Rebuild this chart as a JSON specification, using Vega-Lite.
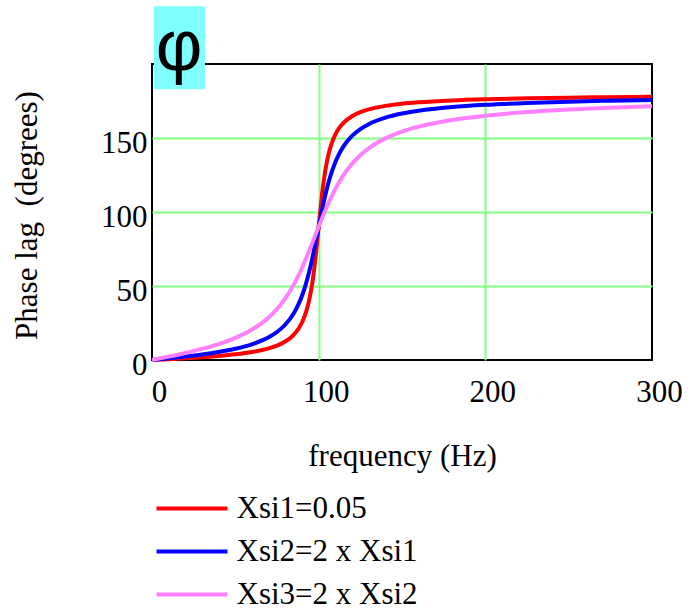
{
  "$schema": "https://vega.github.io/schema/vega-lite/v6.json",
  "width": 500,
  "height": 296,
  "autosize": {"type": "none"},
  "padding": {"left": 152, "top": 64, "right": 36, "bottom": 249},
  "background": "white",
  "config": {
    "view": {"stroke": "black", "strokeWidth": 2},
    "axis": {
      "grid": true,
      "gridColor": "#80ff80",
      "gridWidth": 2,
      "domain": false,
      "ticks": false,
      "tickSize": 0,
      "labelFont": "Liberation Serif",
      "labelFontSize": 31,
      "labelColor": "black",
      "titleFont": "Liberation Serif",
      "titleFontSize": 31,
      "titleFontWeight": "normal",
      "titleColor": "black"
    },
    "legend": {
      "labelFont": "Liberation Serif",
      "labelFontSize": 31,
      "labelColor": "black",
      "labelLimit": 500
    }
  },
  "encoding": {
    "x": {
      "field": "f",
      "type": "quantitative",
      "title": "frequency (Hz)",
      "scale": {"domain": [0, 300], "nice": false, "zero": false},
      "axis": {
        "values": [0, 100, 200, 300],
        "labelBaseline": "alphabetic",
        "labelPadding": 41,
        "labelOffset": 7,
        "labelFlush": false,
        "labelOverlap": false,
        "gridOpacity": {"condition": {"test": "datum.value == 0 || datum.value == 300", "value": 0}, "value": 1},
        "titleBaseline": "alphabetic",
        "titleX": 250,
        "titleY": 105,
        "titleAlign": "center"
      }
    },
    "y": {
      "field": "p",
      "type": "quantitative",
      "title": "Phase lag\u00a0 (degrees)",
      "scale": {"domain": [0, 200], "nice": false},
      "axis": {
        "values": [0, 50, 100, 150],
        "labelBaseline": "alphabetic",
        "labelOffset": 14,
        "labelPadding": 5,
        "labelFlush": false,
        "labelOverlap": false,
        "gridOpacity": {"condition": {"test": "datum.value == 0", "value": 0}, "value": 1},
        "titleAngle": 270,
        "titleBaseline": "alphabetic",
        "titleAlign": "center",
        "titleX": -116,
        "titleY": 151
      }
    }
  },
  "layer": [
    {
      "data": {"values": [{"f": 1.2, "f2": 31.8, "p": 183, "p2": 239}]},
      "mark": {"type": "rect", "color": "#80ffff"},
      "encoding": {"x2": {"field": "f2"}, "y2": {"field": "p2"}}
    },
    {
      "data": {"values": [{"f": 16.2, "p": 196, "t": "φ"}]},
      "mark": {"type": "text", "font": "Liberation Sans", "fontSize": 72, "color": "black", "baseline": "alphabetic", "align": "center"},
      "encoding": {"text": {"field": "t"}}
    },
    {
      "data": {
        "values": [
          {"s":"Xsi1=0.05","f":0,"p":0},{"s":"Xsi1=0.05","f":10,"p":0.58},{"s":"Xsi1=0.05","f":20,"p":1.19},{"s":"Xsi1=0.05","f":30,"p":1.89},{"s":"Xsi1=0.05","f":40,"p":2.73},{"s":"Xsi1=0.05","f":50,"p":3.81},{"s":"Xsi1=0.05","f":60,"p":5.36},{"s":"Xsi1=0.05","f":70,"p":7.82},{"s":"Xsi1=0.05","f":75,"p":9.73},{"s":"Xsi1=0.05","f":80,"p":12.53},{"s":"Xsi1=0.05","f":85,"p":17.03},{"s":"Xsi1=0.05","f":88,"p":21.31},{"s":"Xsi1=0.05","f":90,"p":25.35},{"s":"Xsi1=0.05","f":92,"p":30.92},{"s":"Xsi1=0.05","f":94,"p":38.92},{"s":"Xsi1=0.05","f":95,"p":44.26},{"s":"Xsi1=0.05","f":96,"p":50.76},{"s":"Xsi1=0.05","f":97,"p":58.65},{"s":"Xsi1=0.05","f":98,"p":68.0},{"s":"Xsi1=0.05","f":99,"p":78.63},{"s":"Xsi1=0.05","f":100,"p":90},{"s":"Xsi1=0.05","f":101,"p":101.25},{"s":"Xsi1=0.05","f":102,"p":111.61},{"s":"Xsi1=0.05","f":103,"p":120.59},{"s":"Xsi1=0.05","f":104,"p":128.12},{"s":"Xsi1=0.05","f":105,"p":134.31},{"s":"Xsi1=0.05","f":106,"p":139.39},{"s":"Xsi1=0.05","f":108,"p":147.0},{"s":"Xsi1=0.05","f":110,"p":152.35},{"s":"Xsi1=0.05","f":112,"p":156.24},{"s":"Xsi1=0.05","f":115,"p":160.37},{"s":"Xsi1=0.05","f":120,"p":164.74},{"s":"Xsi1=0.05","f":125,"p":167.47},{"s":"Xsi1=0.05","f":130,"p":169.33},{"s":"Xsi1=0.05","f":140,"p":171.7},{"s":"Xsi1=0.05","f":150,"p":173.16},{"s":"Xsi1=0.05","f":160,"p":174.14},{"s":"Xsi1=0.05","f":180,"p":175.41},{"s":"Xsi1=0.05","f":200,"p":176.19},{"s":"Xsi1=0.05","f":225,"p":176.83},{"s":"Xsi1=0.05","f":250,"p":177.27},{"s":"Xsi1=0.05","f":275,"p":177.6},{"s":"Xsi1=0.05","f":300,"p":177.85},
          {"s":"Xsi2=2 x Xsi1","f":0,"p":0},{"s":"Xsi2=2 x Xsi1","f":10,"p":1.16},{"s":"Xsi2=2 x Xsi1","f":20,"p":2.39},{"s":"Xsi2=2 x Xsi1","f":30,"p":3.77},{"s":"Xsi2=2 x Xsi1","f":40,"p":5.44},{"s":"Xsi2=2 x Xsi1","f":50,"p":7.6},{"s":"Xsi2=2 x Xsi1","f":60,"p":10.62},{"s":"Xsi2=2 x Xsi1","f":70,"p":15.35},{"s":"Xsi2=2 x Xsi1","f":75,"p":18.92},{"s":"Xsi2=2 x Xsi1","f":80,"p":23.96},{"s":"Xsi2=2 x Xsi1","f":85,"p":31.49},{"s":"Xsi2=2 x Xsi1","f":88,"p":37.96},{"s":"Xsi2=2 x Xsi1","f":90,"p":43.45},{"s":"Xsi2=2 x Xsi1","f":92,"p":50.14},{"s":"Xsi2=2 x Xsi1","f":94,"p":58.24},{"s":"Xsi2=2 x Xsi1","f":95,"p":62.84},{"s":"Xsi2=2 x Xsi1","f":96,"p":67.79},{"s":"Xsi2=2 x Xsi1","f":97,"p":73.06},{"s":"Xsi2=2 x Xsi1","f":98,"p":78.58},{"s":"Xsi2=2 x Xsi1","f":99,"p":84.26},{"s":"Xsi2=2 x Xsi1","f":100,"p":90},{"s":"Xsi2=2 x Xsi1","f":101,"p":95.68},{"s":"Xsi2=2 x Xsi1","f":102,"p":101.2},{"s":"Xsi2=2 x Xsi1","f":103,"p":106.47},{"s":"Xsi2=2 x Xsi1","f":104,"p":111.42},{"s":"Xsi2=2 x Xsi1","f":105,"p":116.02},{"s":"Xsi2=2 x Xsi1","f":106,"p":120.25},{"s":"Xsi2=2 x Xsi1","f":108,"p":127.61},{"s":"Xsi2=2 x Xsi1","f":110,"p":133.67},{"s":"Xsi2=2 x Xsi1","f":112,"p":138.63},{"s":"Xsi2=2 x Xsi1","f":115,"p":144.5},{"s":"Xsi2=2 x Xsi1","f":120,"p":151.39},{"s":"Xsi2=2 x Xsi1","f":125,"p":156.04},{"s":"Xsi2=2 x Xsi1","f":130,"p":159.35},{"s":"Xsi2=2 x Xsi1","f":140,"p":163.74},{"s":"Xsi2=2 x Xsi1","f":150,"p":166.5},{"s":"Xsi2=2 x Xsi1","f":160,"p":168.41},{"s":"Xsi2=2 x Xsi1","f":180,"p":170.87},{"s":"Xsi2=2 x Xsi1","f":200,"p":172.41},{"s":"Xsi2=2 x Xsi1","f":225,"p":173.68},{"s":"Xsi2=2 x Xsi1","f":250,"p":174.56},{"s":"Xsi2=2 x Xsi1","f":275,"p":175.21},{"s":"Xsi2=2 x Xsi1","f":300,"p":175.71},
          {"s":"Xsi3=2 x Xsi2","f":0,"p":0},{"s":"Xsi3=2 x Xsi2","f":10,"p":2.31},{"s":"Xsi3=2 x Xsi2","f":20,"p":4.76},{"s":"Xsi3=2 x Xsi2","f":30,"p":7.51},{"s":"Xsi3=2 x Xsi2","f":40,"p":10.78},{"s":"Xsi3=2 x Xsi2","f":50,"p":14.93},{"s":"Xsi3=2 x Xsi2","f":60,"p":20.56},{"s":"Xsi3=2 x Xsi2","f":70,"p":28.77},{"s":"Xsi3=2 x Xsi2","f":75,"p":34.44},{"s":"Xsi3=2 x Xsi2","f":80,"p":41.63},{"s":"Xsi3=2 x Xsi2","f":85,"p":50.78},{"s":"Xsi3=2 x Xsi2","f":88,"p":57.34},{"s":"Xsi3=2 x Xsi2","f":90,"p":62.18},{"s":"Xsi3=2 x Xsi2","f":92,"p":67.35},{"s":"Xsi3=2 x Xsi2","f":94,"p":72.8},{"s":"Xsi3=2 x Xsi2","f":95,"p":75.61},{"s":"Xsi3=2 x Xsi2","f":96,"p":78.46},{"s":"Xsi3=2 x Xsi2","f":97,"p":81.34},{"s":"Xsi3=2 x Xsi2","f":98,"p":84.23},{"s":"Xsi3=2 x Xsi2","f":99,"p":87.12},{"s":"Xsi3=2 x Xsi2","f":100,"p":90},{"s":"Xsi3=2 x Xsi2","f":101,"p":92.85},{"s":"Xsi3=2 x Xsi2","f":102,"p":95.65},{"s":"Xsi3=2 x Xsi2","f":103,"p":98.41},{"s":"Xsi3=2 x Xsi2","f":104,"p":101.1},{"s":"Xsi3=2 x Xsi2","f":105,"p":103.71},{"s":"Xsi3=2 x Xsi2","f":106,"p":106.25},{"s":"Xsi3=2 x Xsi2","f":108,"p":111.06},{"s":"Xsi3=2 x Xsi2","f":110,"p":115.51},{"s":"Xsi3=2 x Xsi2","f":112,"p":119.59},{"s":"Xsi3=2 x Xsi2","f":115,"p":125.03},{"s":"Xsi3=2 x Xsi2","f":120,"p":132.51},{"s":"Xsi3=2 x Xsi2","f":125,"p":138.37},{"s":"Xsi3=2 x Xsi2","f":130,"p":143.0},{"s":"Xsi3=2 x Xsi2","f":140,"p":149.74},{"s":"Xsi3=2 x Xsi2","f":150,"p":154.36},{"s":"Xsi3=2 x Xsi2","f":160,"p":157.69},{"s":"Xsi3=2 x Xsi2","f":180,"p":162.18},{"s":"Xsi3=2 x Xsi2","f":200,"p":165.07},{"s":"Xsi3=2 x Xsi2","f":225,"p":167.51},{"s":"Xsi3=2 x Xsi2","f":250,"p":169.22},{"s":"Xsi3=2 x Xsi2","f":275,"p":170.49},{"s":"Xsi3=2 x Xsi2","f":300,"p":171.47}
        ]
      },
      "mark": {"type": "line", "strokeWidth": 4, "interpolate": "monotone"},
      "encoding": {
        "color": {
          "field": "s",
          "type": "nominal",
          "scale": {"domain": ["Xsi1=0.05", "Xsi2=2 x Xsi1", "Xsi3=2 x Xsi2"], "range": ["#ff0000", "#0000ff", "#ff80ff"]},
          "legend": {
            "title": null,
            "orient": "none",
            "legendX": 1,
            "legendY": 429,
            "direction": "vertical",
            "symbolType": "M-2.958,0H2.958",
            "symbolSize": 576,
            "symbolStrokeWidth": 4,
            "symbolOffset": 23.5,
            "labelOffset": 29,
            "padding": 0,
            "rowPadding": 11
          }
        }
      }
    }
  ]
}
